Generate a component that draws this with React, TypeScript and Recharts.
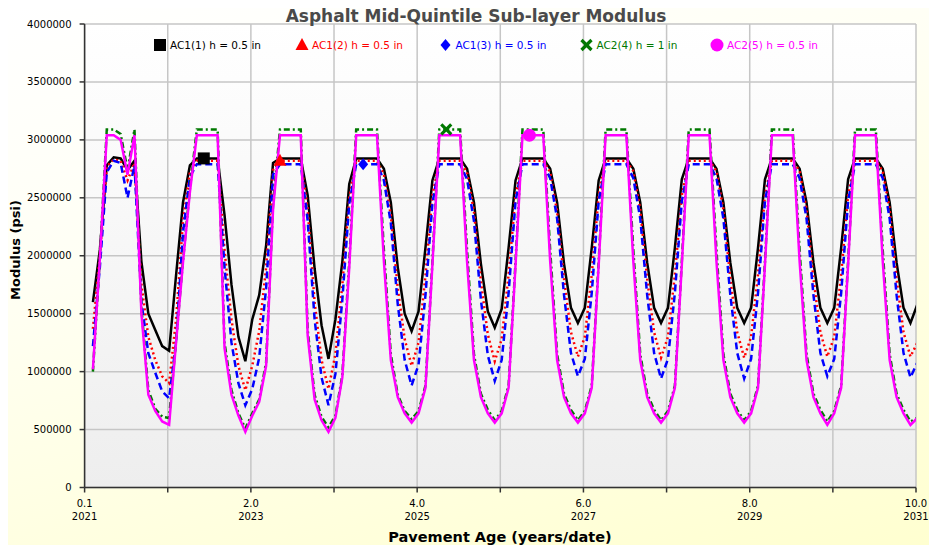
import React from 'react';
import { LineChart, Line, XAxis, YAxis, CartesianGrid } from 'recharts';

const chartTitle = 'Asphalt Mid-Quintile Sub-layer Modulus';
const xTitle = 'Pavement Age (years/date)';
const yTitle = 'Modulus (psi)';

const seriesNames = ['AC1(1) h = 0.5  in', 'AC1(2) h = 0.5  in', 'AC1(3) h = 0.5  in', 'AC2(4) h = 1  in', 'AC2(5) h = 0.5  in'];
const seriesColors = ['#000000', '#ff0000', '#0000ff', '#007800', '#ff00ff'];

// first data point age (years) and monthly step
const firstAge = 0.1;
const monthsPerYear = 12;

// values in thousands of psi, one per month
const ac1_1 = [
  1600, 2050, 2780, 2850, 2840, 2740, 2820, 1950, 1500, 1360, 1220, 1180,
  1830, 2460, 2780, 2840, 2840, 2840, 2840, 2350, 1750, 1300, 1090, 1450,
  1660, 2090, 2800, 2840, 2840, 2840, 2840, 2520, 1890, 1400, 1110, 1450,
  1950, 2620, 2840, 2840, 2840, 2840, 2750, 2460, 1900, 1500, 1350, 1520,
  2070, 2650, 2840, 2840, 2840, 2840, 2750, 2460, 1930, 1520, 1380, 1540,
  2070, 2650, 2840, 2840, 2840, 2840, 2750, 2460, 1930, 1550, 1420, 1550,
  2070, 2650, 2840, 2840, 2840, 2840, 2750, 2460, 1940, 1550, 1420, 1550,
  2070, 2660, 2840, 2840, 2840, 2840, 2750, 2460, 1940, 1550, 1420, 1550,
  2070, 2660, 2840, 2840, 2840, 2840, 2750, 2460, 1940, 1550, 1420, 1550,
  2070, 2660, 2840, 2840, 2840, 2840, 2750, 2460, 1940, 1550, 1420, 1580,
];
const ac1_2 = [
  1370, 2000, 2770, 2830, 2820, 2650, 2800, 1750, 1300, 1100, 960, 900,
  1450, 2300, 2720, 2820, 2820, 2820, 2820, 2050, 1450, 1050, 840, 1050,
  1350, 1900, 2740, 2820, 2820, 2820, 2820, 2400, 1600, 1100, 850, 1150,
  1750, 2500, 2820, 2820, 2820, 2820, 2700, 2350, 1720, 1280, 1050, 1250,
  1830, 2520, 2820, 2820, 2820, 2820, 2720, 2380, 1780, 1320, 1090, 1280,
  1840, 2520, 2820, 2820, 2820, 2820, 2720, 2380, 1800, 1340, 1130, 1300,
  1840, 2520, 2820, 2820, 2820, 2820, 2730, 2400, 1800, 1340, 1120, 1300,
  1840, 2520, 2820, 2820, 2820, 2820, 2730, 2400, 1800, 1340, 1120, 1300,
  1840, 2520, 2820, 2820, 2820, 2820, 2730, 2400, 1800, 1340, 1130, 1300,
  1840, 2520, 2820, 2820, 2820, 2820, 2730, 2400, 1800, 1340, 1130, 1250,
];
const ac1_3 = [
  1220, 1900, 2720, 2820, 2800, 2500, 2780, 1600, 1160, 990, 830, 770,
  1250, 2200, 2680, 2790, 2790, 2790, 2790, 1900, 1250, 900, 710, 850,
  1120, 1720, 2700, 2790, 2790, 2790, 2790, 2300, 1450, 950, 710, 980,
  1620, 2450, 2790, 2790, 2790, 2790, 2650, 2280, 1580, 1100, 880, 1060,
  1660, 2450, 2790, 2790, 2790, 2790, 2660, 2300, 1620, 1140, 920, 1100,
  1680, 2470, 2790, 2790, 2790, 2790, 2670, 2320, 1660, 1160, 960, 1110,
  1680, 2470, 2790, 2790, 2790, 2790, 2670, 2320, 1660, 1160, 940, 1110,
  1680, 2470, 2790, 2790, 2790, 2790, 2670, 2320, 1660, 1160, 940, 1110,
  1680, 2470, 2790, 2790, 2790, 2790, 2670, 2320, 1660, 1160, 960, 1110,
  1680, 2470, 2790, 2790, 2790, 2790, 2670, 2320, 1660, 1160, 950, 1080,
];
const ac2_4 = [
  1000, 1980, 3090, 3090, 3050, 2740, 3090, 1550, 840, 680, 610, 600,
  1270, 1960, 2580, 3090, 3090, 3090, 3090, 1250, 840, 640, 510, 640,
  760, 1080, 2450, 3090, 3090, 3090, 3090, 1360, 800, 610, 520, 620,
  970, 1950, 3090, 3090, 3090, 3090, 2050, 1150, 800, 660, 590, 660,
  880, 1950, 3090, 3090, 3090, 3090, 2050, 1150, 810, 670, 580, 660,
  880, 1950, 3090, 3090, 3090, 3090, 2050, 1150, 810, 670, 580, 660,
  880, 1950, 3090, 3090, 3090, 3090, 2050, 1150, 810, 670, 580, 660,
  880, 1950, 3090, 3090, 3090, 3090, 2050, 1150, 810, 670, 580, 660,
  880, 1950, 3090, 3090, 3090, 3090, 2050, 1150, 810, 670, 570, 660,
  880, 1950, 3090, 3090, 3090, 3090, 2050, 1150, 810, 670, 570, 600,
];
const ac2_5 = [
  1020, 1970, 3040, 3040, 3000, 2700, 3040, 1500, 800, 660, 570, 540,
  1250, 1940, 2550, 3040, 3040, 3040, 3040, 1200, 800, 620, 480, 620,
  740, 1050, 2400, 3040, 3040, 3040, 3040, 1310, 760, 580, 480, 600,
  950, 1900, 3040, 3040, 3040, 3040, 1950, 1100, 780, 640, 560, 640,
  860, 1920, 3040, 3040, 3040, 3040, 1950, 1100, 780, 640, 560, 640,
  860, 1920, 3040, 3040, 3040, 3040, 1950, 1100, 780, 640, 560, 640,
  860, 1920, 3040, 3040, 3040, 3040, 1950, 1100, 780, 640, 560, 640,
  860, 1920, 3040, 3040, 3040, 3040, 1950, 1100, 780, 640, 560, 640,
  860, 1920, 3040, 3040, 3040, 3040, 1950, 1100, 780, 640, 540, 640,
  860, 1920, 3040, 3040, 3040, 3040, 1950, 1100, 780, 640, 540, 600,
];

// month index where each series shows its single marker
const markerIndex = [16, 27, 39, 51, 63];

const xTickValues = [0, 1, 2, 3, 4, 5, 6, 7, 8, 9, 10];
const xTickAges = ['0.1', '', '2.0', '', '4.0', '', '6.0', '', '8.0', '', '10.0'];
const xTickYears = ['2021', '', '2023', '', '2025', '', '2027', '', '2029', '', '2031'];
const yTickValues = [0, 500000, 1000000, 1500000, 2000000, 2500000, 3000000, 3500000, 4000000];

const allSeries = [ac1_1, ac1_2, ac1_3, ac2_4, ac2_5];
const keys = ['s1', 's2', 's3', 's4', 's5'];

const data = ac1_1.map((_, k) => {
  const row: any = { age: firstAge + k / monthsPerYear };
  allSeries.forEach((s, j) => {
    row[keys[j]] = s[k] * 1000;
  });
  return row;
});

const W = 929;
const H = 550;
const FONT = 'DejaVu Sans, Verdana, sans-serif';

const Marker = ({ kind, cx, cy, color }: { kind: number; cx: number; cy: number; color: string }) => {
  if (kind === 0) return <rect x={cx - 6} y={cy - 6} width={12} height={12} fill={color} />;
  if (kind === 1) return <polygon points={`${cx},${cy - 7} ${cx + 6.5},${cy + 5} ${cx - 6.5},${cy + 5}`} fill={color} />;
  if (kind === 2) return <polygon points={`${cx},${cy - 6} ${cx + 5},${cy} ${cx},${cy + 6} ${cx - 5},${cy}`} fill={color} />;
  if (kind === 3)
    return (
      <g stroke={color} strokeWidth={3.2}>
        <line x1={cx - 5} y1={cy - 5} x2={cx + 5} y2={cy + 5} />
        <line x1={cx - 5} y1={cy + 5} x2={cx + 5} y2={cy - 5} />
      </g>
    );
  return <circle cx={cx} cy={cy} r={6.5} fill={color} />;
};

const makeDot = (j: number) => (props: any) => {
  const { cx, cy, index } = props;
  if (index !== markerIndex[j] || cx == null || cy == null) return <g key={`d${j}-${index}`} />;
  return (
    <g key={`d${j}-${index}`}>
      <Marker kind={j} cx={cx} cy={cy} color={seriesColors[j]} />
    </g>
  );
};

const XTick = (props: any) => {
  const { x, y, payload } = props;
  const i = xTickValues.indexOf(payload.value);
  if (i < 0 || !xTickAges[i]) return <g />;
  return (
    <g>
      <text x={x} y={y + 12} textAnchor="middle" fontSize={10} fontFamily={FONT} fill="#000">
        {xTickAges[i]}
      </text>
      <text x={x} y={y + 25} textAnchor="middle" fontSize={10} fontFamily={FONT} fill="#000">
        {xTickYears[i]}
      </text>
    </g>
  );
};

const dashes = [undefined, '2 3', '7 4', '6 3 2 3', undefined];

const legendIconX = [160, 302, 445.5, 586.5, 717];

export default function App() {
  return (
    <div style={{ position: 'relative', width: W, height: H, background: '#ffffff' }}>
      <style>{`html,body{margin:0;overflow:hidden}`}</style>
      <div
        style={{
          position: 'absolute',
          left: 8,
          top: 8,
          width: W - 8,
          height: H - 13,
          background: 'linear-gradient(165deg, #ffffff 0%, #fffff4 35%, #ffffd0 100%)',
        }}
      />
      <div style={{ position: 'absolute', left: 0, top: 0 }}>
        <LineChart
          width={W}
          height={H}
          data={data}
          margin={{ top: 24, right: 13, bottom: 0, left: 14.6 }}
        >
          <defs>
            <linearGradient id="plotBg" x1="0" y1="0" x2="0" y2="1">
              <stop offset="0%" stopColor="#ffffff" />
              <stop offset="100%" stopColor="#eeeeee" />
            </linearGradient>
          </defs>
          <CartesianGrid stroke="#c6c6c6" strokeWidth={1.5} fill="url(#plotBg)" />
          <XAxis
            dataKey="age"
            type="number"
            domain={[0, 10]}
            ticks={xTickValues}
            interval={0}
            allowDataOverflow
            height={62.5}
            tickSize={5}
            tickMargin={2}
            tick={<XTick />}
            stroke="#333"
            strokeWidth={1.5}
          />
          <YAxis
            type="number"
            domain={[0, 4000000]}
            ticks={yTickValues}
            interval={0}
            width={70}
            tickSize={5}
            tickMargin={8}
            tick={{ fontSize: 10, fill: '#000', fontFamily: FONT }}
            stroke="#333"
            strokeWidth={1.5}
          />
          {keys.map((k, j) => (
            <Line
              key={k}
              dataKey={k}
              type="linear"
              stroke={seriesColors[j]}
              strokeWidth={2.5}
              strokeDasharray={dashes[j]}
              dot={makeDot(j)}
              activeDot={false}
              isAnimationActive={false}
            />
          ))}
        </LineChart>
      </div>
      <svg
        width={W}
        height={H}
        style={{ position: 'absolute', left: 0, top: 0, pointerEvents: 'none' }}
      >
        <text x={476} y={22} textAnchor="middle" fontSize={17} fontWeight="bold" fontFamily={FONT} fill="#4a4a4a">
          {chartTitle}
        </text>
        <text x={500} y={542} textAnchor="middle" fontSize={14.5} fontWeight="bold" fontFamily={FONT} fill="#000">
          {xTitle}
        </text>
        <text
          x={0}
          y={0}
          transform="translate(20,250) rotate(-90)"
          textAnchor="middle"
          fontSize={13}
          fontWeight="bold"
          fontFamily={FONT}
          fill="#000"
        >
          {yTitle}
        </text>
        {seriesNames.map((name, j) => (
          <g key={name}>
            <Marker kind={j} cx={legendIconX[j]} cy={45} color={seriesColors[j]} />
            <text x={legendIconX[j] + 10} y={49} fontSize={10.5} fontFamily={FONT} fill={seriesColors[j]}>
              {name}
            </text>
          </g>
        ))}
      </svg>
    </div>
  );
}
